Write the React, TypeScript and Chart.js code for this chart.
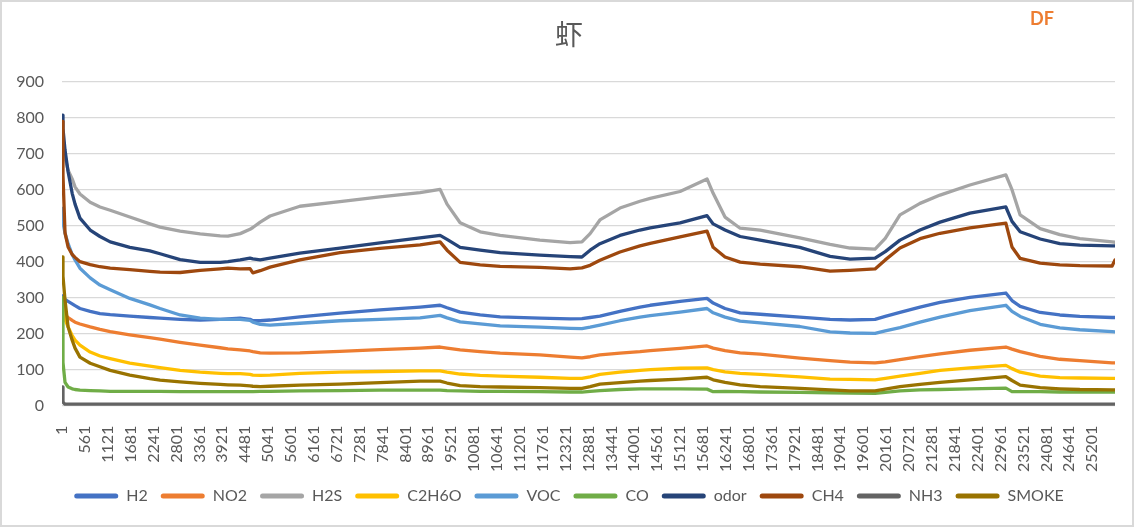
import React, { useEffect, useRef } from "react";
import { Chart, registerables } from "chart.js";

Chart.register(...registerables);

const seriesNames = ["H2", "NO2", "H2S", "C2H6O", "VOC", "CO", "odor", "CH4", "NH3", "SMOKE"];
const seriesColors = ["#4472C4", "#ED7D31", "#A5A5A5", "#FFC000", "#5B9BD5", "#70AD47", "#264478", "#9E480E", "#636363", "#997300"];

const sampleIndex = [
  1, 25, 75, 150, 250, 320, 440, 690, 930, 1180,
  1660, 2150, 2400, 2890, 3380, 3870, 4060, 4360, 4600, 4670,
  4850, 5090, 5820, 6800, 7780, 8760, 9250, 9420, 9740, 10230,
  10720, 11690, 12430, 12720, 12920, 13160, 13650, 14140, 14390, 15120,
  15780, 15930, 16220, 16590, 17080, 18050, 18790, 19280, 19890, 20140,
  20500, 20990, 21480, 22210, 23090, 23240, 23440, 23930, 24410, 24900,
  25690, 25760,
];

const h2 = [
  305, 300, 295, 290, 283, 278, 270, 262, 256, 253,
  249, 245, 243, 240, 238, 240, 241, 243, 240, 236,
  236, 238, 247, 257, 266, 274, 279, 272, 260, 252,
  247, 243, 241, 242, 245, 249, 262, 274, 279, 290,
  298, 285, 270, 258, 254, 246, 240, 238, 240, 248,
  259, 274, 287, 301, 313, 292, 276, 259, 252, 248,
  245, 245,
];
const no2 = [
  290, 265, 252, 245, 237, 232, 227, 219, 212, 206,
  197, 189, 185, 176, 168, 161, 158, 155, 152, 150,
  147, 146, 147, 151, 156, 160, 163, 160, 155, 150,
  146, 141, 135, 133, 136, 141, 146, 150, 153, 159,
  166, 160, 153, 147, 143, 132, 125, 121, 119, 122,
  128, 136, 144, 154, 163, 157, 150, 137, 129, 125,
  119, 119,
];
const h2s = [
  745, 725, 690, 654, 630, 608, 588, 565, 552, 543,
  524, 505, 496, 485, 477, 472, 471, 478, 490, 495,
  510, 527, 554, 567, 580, 592, 601, 560, 508, 483,
  473, 460, 453, 455, 478, 516, 549, 568, 576, 595,
  630, 590, 524, 493, 488, 466, 448, 438, 435, 465,
  530, 562, 585, 613, 641, 600, 530, 492, 475, 464,
  455, 454,
];
const c2h6o = [
  300, 270, 240, 219, 195, 182, 168, 149, 138, 131,
  118, 110, 106, 98, 93, 90, 89, 89, 87, 85,
  84, 85, 90, 93, 95, 97, 97, 93, 88, 84,
  82, 79, 76, 76, 80, 87, 93, 98, 100, 104,
  105, 100, 94, 90, 87, 80, 74, 73, 72, 76,
  82, 90, 98, 105, 112, 103, 93, 82, 78, 77,
  76, 76,
];
const voc = [
  548, 510, 479, 450, 420, 405, 382, 355, 335, 322,
  298, 280, 270, 252, 243, 240, 240, 240, 237, 232,
  226, 224, 229, 236, 240, 244, 251, 244, 233, 227,
  222, 218, 215, 214, 218, 224, 236, 246, 250, 260,
  270, 258, 246, 235, 230, 220, 205, 202, 201, 208,
  217, 232, 246, 264, 279, 262, 248, 226, 216, 211,
  206, 205,
];
const co = [
  300, 120, 65, 52, 47, 45, 43, 42, 41, 40,
  40, 40, 40, 39, 39, 39, 39, 39, 39, 39,
  40, 40, 41, 42, 43, 43, 43, 42, 41, 40,
  40, 39, 38, 38, 40, 42, 45, 47, 47, 47,
  46, 39, 40, 39, 38, 37, 36, 35, 34, 37,
  41, 44, 45, 47, 49, 39, 39, 39, 38, 38,
  38, 38,
];
const odor = [
  807, 770, 710, 650, 590, 560, 521, 488, 470, 455,
  440, 430, 422, 406, 398, 398, 400, 405, 410, 408,
  405, 410, 424, 438, 452, 466, 473, 462, 440, 432,
  425, 418, 414, 413, 432, 450, 473, 488, 494, 508,
  528, 505, 488, 470, 460, 440, 415, 407, 410, 428,
  460, 488, 510, 535, 552, 512, 483, 463, 450, 446,
  444, 444,
];
const ch4 = [
  790, 640, 480, 441, 420, 412, 400, 392, 386, 382,
  378, 373, 371, 370, 376, 380, 382, 380, 381, 369,
  375, 385, 405, 425, 437, 447, 455, 432, 398, 391,
  387, 384, 380, 383, 390, 404, 427, 444, 451, 469,
  485, 440, 413, 399, 393, 386, 374, 376, 380, 405,
  438, 464, 479, 494, 507, 441, 409, 396, 391, 389,
  388, 405,
];
const nh3 = [
  52, 10, 4, 4, 4, 4, 4, 4, 4, 4,
  4, 4, 4, 4, 4, 4, 4, 4, 4, 4,
  4, 4, 4, 4, 4, 4, 4, 4, 4, 4,
  4, 4, 4, 4, 4, 4, 4, 4, 4, 4,
  4, 4, 4, 4, 4, 4, 4, 4, 4, 4,
  4, 4, 4, 4, 4, 4, 4, 4, 4, 4,
  4, 4,
];
const smoke = [
  413, 360, 293, 219, 182, 160, 135, 118, 108, 98,
  85, 75, 71, 66, 62, 59, 58, 57, 55, 54,
  53, 54, 57, 60, 64, 68, 68, 63, 56, 53,
  52, 50, 48, 48, 53, 60, 64, 68, 70, 74,
  79, 72, 65, 58, 53, 48, 44, 41, 41, 46,
  53, 59, 65, 72, 81, 70, 57, 50, 47, 45,
  44, 44,
];

const xTickValues = [
  1, 561, 1121, 1681, 2241, 2801, 3361, 3921, 4481, 5041,
  5601, 6161, 6721, 7281, 7841, 8401, 8961, 9521, 10081, 10641,
  11201, 11761, 12321, 12881, 13441, 14001, 14561, 15121, 15681, 16241,
  16801, 17361, 17921, 18481, 19041, 19601, 20161, 20721, 21281, 21841,
  22401, 22961, 23521, 24081, 24641, 25201,
];

const chartTitle = "虾";
const cornerLabel = "DF";
const FONT = "Lato, 'Noto Sans', sans-serif";

export default function App() {
  const ref = useRef<HTMLCanvasElement>(null);

  useEffect(() => {
    const series = [h2, no2, h2s, c2h6o, voc, co, odor, ch4, nh3, smoke];
    const datasets = series.map((vals, i) => ({
      label: seriesNames[i],
      data: sampleIndex.map((x, j) => ({ x, y: vals[j] })),
      borderColor: seriesColors[i],
      backgroundColor: seriesColors[i],
      borderWidth: 3.3,
      pointRadius: 0,
      pointHoverRadius: 0,
      tension: 0,
      borderJoinStyle: "round" as const,
      borderCapStyle: "round" as const,
      order: series.length - i,
      yAxisID: "y",
    }));

    const cornerPlugin = {
      id: "cornerLabel",
      afterDraw(chart: any) {
        const ctx = chart.ctx;
        ctx.save();
        ctx.font = `bold 18px ${FONT}`;
        ctx.fillStyle = "#ED7D31";
        ctx.textBaseline = "alphabetic";
        ctx.textAlign = "left";
        ctx.fillText(cornerLabel, 1030, 25);
        ctx.restore();
      },
    };

    const chart = new Chart(ref.current as HTMLCanvasElement, {
      type: "line",
      data: { datasets: datasets as any },
      options: {
        responsive: false,
        animation: false,
        layout: { padding: { left: 0, right: 0, top: 0, bottom: 13 } },
        plugins: {
          title: {
            display: true,
            text: chartTitle,
            color: "#595959",
            font: { family: "'Noto Sans CJK SC', sans-serif", size: 28, weight: "normal", lineHeight: 1.2 },
            padding: { top: 17.7, bottom: 30.4 },
          },
          legend: {
            position: "bottom",
            labels: {
              boxWidth: 44,
              boxHeight: 5,
              useBorderRadius: true,
              borderRadius: 2.5,
              padding: 13,
              color: "#595959",
              font: { family: FONT, size: 16 },
              sort: (a: any, b: any) => a.datasetIndex - b.datasetIndex,
              generateLabels: (c: any) => {
                const items = (Chart.defaults.plugins.legend.labels as any).generateLabels(c);
                return items.map((it: any) => ({
                  ...it,
                  fillStyle: seriesColors[it.datasetIndex],
                  strokeStyle: seriesColors[it.datasetIndex],
                  lineWidth: 0,
                  borderRadius: 2.5,
                }));
              },
            },
          },
          tooltip: { enabled: false },
        },
        scales: {
          x: {
            type: "linear",
            min: 1,
            max: 25760,
            afterBuildTicks: (s: any) => {
              s.ticks = xTickValues.map((v) => ({ value: v }));
            },
            afterFit: (s: any) => {
              s.height = 69.3;
            },
            grid: { display: false },
            border: { display: false },
            ticks: {
              autoSkip: false,
              minRotation: 90,
              maxRotation: 90,
              padding: 12,
              color: "#595959",
              font: { family: FONT, size: 16 },
              callback: (v: any) => String(v),
            },
          },
          y: {
            position: "left",
            min: 0,
            max: 900,
            afterFit: (s: any) => {
              s.width = 62;
            },
            ticks: {
              stepSize: 100,
              padding: 18,
              color: "#595959",
              font: { family: FONT, size: 16 },
            },
            grid: { color: "#D9D9D9", lineWidth: 1.3, drawTicks: false },
            border: { display: false },
          },
          spacer: {
            type: "linear",
            position: "right",
            display: true,
            afterFit: (s: any) => {
              s.width = 23;
            },
            ticks: { display: false },
            grid: { display: false, drawOnChartArea: false },
            border: { display: false },
          },
        },
      } as any,
      plugins: [cornerPlugin],
    });
    return () => chart.destroy();
  }, []);

  return (
    <div style={{ position: "fixed", left: 0, top: 0, width: 1138, height: 527, background: "#fff" }}>
      <canvas ref={ref} width={1138} height={527} style={{ display: "block", width: 1138, height: 527 }} />
      <div
        style={{
          position: "absolute",
          left: 0,
          top: 0,
          width: 1134,
          height: 527,
          boxSizing: "border-box",
          border: "2px solid #D9D9D9",
          pointerEvents: "none",
        }}
      />
    </div>
  );
}
